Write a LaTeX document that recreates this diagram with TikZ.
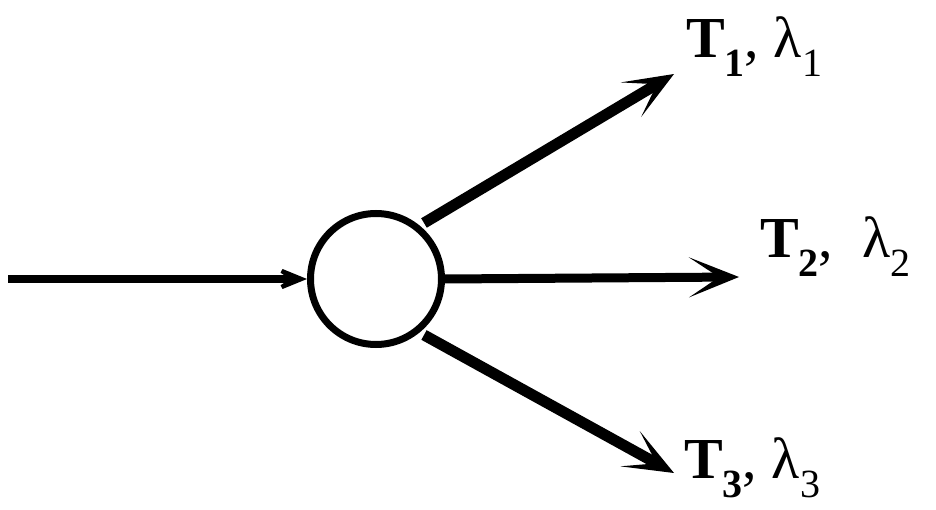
\documentclass[tikz,border=0pt]{standalone}
\usepackage{fontspec}
\setmainfont{Liberation Serif}
\usetikzlibrary{arrows.meta}
\newcommand{\lowsub}[1]{\raisebox{-19pt}{\fontsize{40}{40}\selectfont #1}}
\tikzset{
  lab/.style={anchor=base west, inner sep=0pt, font=\fontsize{58}{58}\selectfont},
  flow/.style={line width=11pt, -{Stealth[length=50pt, width=40pt, inset=30pt]}},
  flowh/.style={line width=9pt, -{Stealth[length=50pt, width=40pt, inset=30pt]}},
  feed/.style={line width=8pt, -{Stealth[length=44pt, width=36pt, inset=27pt]}}
}
\begin{document}
\begin{tikzpicture}[x=1pt,y=-1pt]
\useasboundingbox (0,0) rectangle (936,510);
\node[circle, draw, line width=7pt, minimum size=131pt, inner sep=0pt] (c) at (376,279) {};
\coordinate (s) at (8,279);
\coordinate (e1) at (674,74);
\coordinate (e2) at (739,277);
\coordinate (e3) at (674,473);
\coordinate (b1) at (424,223);
\coordinate (b3) at (424,335);
\draw[feed] (s) -- (c.west);
\draw[flow] (b1) -- (e1);
\draw[flowh] (c.east) -- (e2);
\draw[flow] (b3) -- (e3);
\node[lab] (t1) at (686,58) {\textbf{T\lowsub{1}}, λ\lowsub{1}};
\node[lab] (t2) at (760,258) {\textbf{T\lowsub{2}},\ \ λ\lowsub{2}};
\node[lab] (t3) at (684,478) {\textbf{T\lowsub{3}}, λ\lowsub{3}};
\end{tikzpicture}
\end{document}
